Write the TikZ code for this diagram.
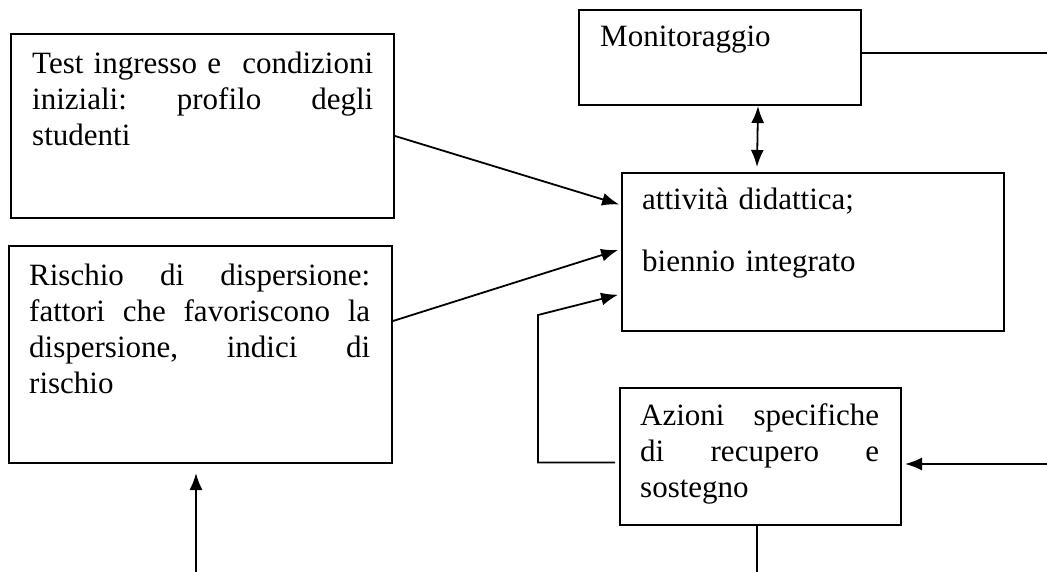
\documentclass[tikz,border=0pt]{standalone}
\usepackage{fontspec}
\setmainfont{Liberation Serif}
\usetikzlibrary{positioning,arrows.meta}

\begin{document}
\begin{tikzpicture}[x=1pt,y=-1pt]
  \tikzstyle{box} = [rectangle, draw, line width=2pt, anchor=north
  west, inner sep=0pt] \tikzstyle{txt} = [anchor=base west, inner
  sep=0pt, align=left, font=\fontsize{31}{36}\selectfont]
  \tikzstyle{conn} = [line width=1.8pt]
  \tikzstyle{arr} = [conn, -{Latex[length=17pt,width=13pt]}]
  \tikzstyle{darr} = [conn,
  {Latex[length=17pt,width=13pt]}-{Latex[length=17pt,width=13pt]}]
  \useasboundingbox (0,0) rectangle (1047,572);
  % boxes
  \node[box, minimum width=383, minimum height=184] (tst) at (10,33){};
  \node[box, minimum width=383, minimum height=217] (rsk) at (8,245){};
  \node[box, minimum width=282, minimum height=95] (mon) at (578,9){};
  \node[box, minimum width=382, minimum height=158] (att) at (621,172){};
  \node[box, minimum width=281, minimum height=137] (az) at (619,387){};
  % texts
  \node[txt, text width=341] (tstTxt) at (32,74)
  {Test ingresso e\hfill condizioni\\
    iniziali:\hfill profilo\hfill degli\\ studenti};
  \node[txt, text width=341] (rskTxt) at (29,285)
  {Rischio\hfill di\hfill dispersione:\\
    fattori\hfill che\hfill favoriscono\hfill la\\
    dispersione,\hfill indici\hfill di\\ rischio};
  \node[txt] (monTxt) at (600,47) {Monitoraggio};
  \node[txt, text width=330] (attTxt) at (642,210)
  {attività didattica;\\[26pt] biennio integrato};
  \node[txt, text width=239] (azTxt) at (640,425)
  {Azioni\hfill specifiche\\ di\hfill recupero\hfill e\\ sostegno};
  % free ends
  \coordinate (rgtOut) at (1047,53); \coordinate (rgtIn) at (1047,464);
  \coordinate (loop) at (538,315); \coordinate (bot) at (757,572);
  \coordinate (rskIn) at (196,572);
  % connectors
  \draw[arr,shorten >=2pt] ([yshift=-10pt]tst.east) --
  ([yshift=47pt]att.west);
  \draw[arr,shorten >=3pt] ([yshift=33.5pt]rsk.east) --
  ([yshift=3pt]att.west);
  \draw[arr,shorten >=3pt] ([xshift=-4pt,yshift=-6pt]az.west) -|
  (loop) -- ([yshift=-42pt]att.west);
  \draw[darr] ([xshift=38pt]mon.south) --
  ([xshift=-56pt,yshift=5pt]att.north);
  \draw[conn] (mon.east |- rgtOut) -- (rgtOut);
  \draw[arr,shorten >=3pt] (rgtIn) -- (az.east |- rgtIn);
  \draw[conn] (az.south -| bot) -- (bot);
  \draw[arr,shorten >=9pt] (rskIn) -- (rskIn |- rsk.south);
\end{tikzpicture}
\end{document}
